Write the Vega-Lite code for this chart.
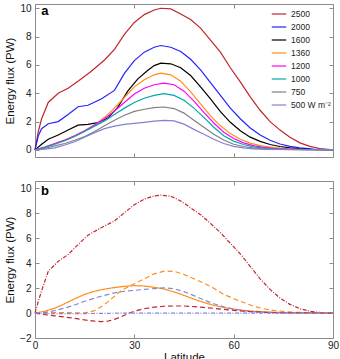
{
  "$schema": "https://vega.github.io/schema/vega-lite/v6.json",
  "padding": {"left": 4, "top": 2, "right": 5, "bottom": 0},
  "spacing": 22,
  "resolve": {"scale": {"color": "independent", "strokeDash": "independent"}},
  "config": {
    "font": "Liberation Sans",
    "view": {"stroke": "#8c8c8c", "strokeWidth": 1},
    "axis": {
      "grid": false, "domain": false, "tickColor": "#8c8c8c", "tickSize": -4,
      "labelPadding": 8, "labelFontSize": 10, "labelColor": "#222", "labelFlush": false,
      "titleFontSize": 11.5, "titleFontWeight": "normal", "titleColor": "#111", "titlePadding": 4
    }
  },
  "datasets": {
    "a": [
      {"s":"2500","lat":0,"v":0},{"s":"2500","lat":1,"v":1.3},{"s":"2500","lat":2,"v":2.2},{"s":"2500","lat":4,"v":3.35},{"s":"2500","lat":7,"v":4.0},{"s":"2500","lat":10,"v":4.35},{"s":"2500","lat":13,"v":4.85},{"s":"2500","lat":17,"v":5.55},{"s":"2500","lat":21,"v":6.35},{"s":"2500","lat":24,"v":7.1},{"s":"2500","lat":27,"v":8.15},{"s":"2500","lat":30,"v":9.0},{"s":"2500","lat":33,"v":9.55},{"s":"2500","lat":36,"v":9.88},{"s":"2500","lat":38,"v":10.0},{"s":"2500","lat":41,"v":9.95},{"s":"2500","lat":44,"v":9.6},{"s":"2500","lat":47,"v":9.2},{"s":"2500","lat":50,"v":8.6},{"s":"2500","lat":53,"v":7.75},{"s":"2500","lat":56,"v":6.9},{"s":"2500","lat":59,"v":5.8},{"s":"2500","lat":62,"v":4.8},{"s":"2500","lat":65,"v":3.75},{"s":"2500","lat":68,"v":2.8},{"s":"2500","lat":71,"v":2.0},{"s":"2500","lat":74,"v":1.4},{"s":"2500","lat":77,"v":0.9},{"s":"2500","lat":80,"v":0.5},{"s":"2500","lat":83,"v":0.25},{"s":"2500","lat":86,"v":0.1},{"s":"2500","lat":90,"v":0},
      {"s":"2000","lat":0,"v":0},{"s":"2000","lat":1,"v":1.0},{"s":"2000","lat":2,"v":1.5},{"s":"2000","lat":4,"v":1.85},{"s":"2000","lat":7,"v":2.0},{"s":"2000","lat":10,"v":2.5},{"s":"2000","lat":13,"v":3.05},{"s":"2000","lat":16,"v":3.15},{"s":"2000","lat":20,"v":3.6},{"s":"2000","lat":24,"v":4.2},{"s":"2000","lat":27,"v":5.4},{"s":"2000","lat":30,"v":6.3},{"s":"2000","lat":33,"v":6.9},{"s":"2000","lat":36,"v":7.25},{"s":"2000","lat":38,"v":7.37},{"s":"2000","lat":41,"v":7.25},{"s":"2000","lat":44,"v":6.95},{"s":"2000","lat":47,"v":6.4},{"s":"2000","lat":50,"v":5.65},{"s":"2000","lat":53,"v":4.75},{"s":"2000","lat":56,"v":3.85},{"s":"2000","lat":59,"v":2.95},{"s":"2000","lat":62,"v":2.2},{"s":"2000","lat":65,"v":1.55},{"s":"2000","lat":68,"v":1.05},{"s":"2000","lat":71,"v":0.68},{"s":"2000","lat":74,"v":0.42},{"s":"2000","lat":77,"v":0.25},{"s":"2000","lat":80,"v":0.14},{"s":"2000","lat":84,"v":0.06},{"s":"2000","lat":90,"v":0},
      {"s":"1600","lat":0,"v":0},{"s":"1600","lat":2,"v":0.4},{"s":"1600","lat":4,"v":0.75},{"s":"1600","lat":7,"v":1.05},{"s":"1600","lat":10,"v":1.4},{"s":"1600","lat":13,"v":1.75},{"s":"1600","lat":16,"v":1.8},{"s":"1600","lat":19,"v":1.93},{"s":"1600","lat":22,"v":2.25},{"s":"1600","lat":25,"v":3.0},{"s":"1600","lat":28,"v":4.15},{"s":"1600","lat":31,"v":5.0},{"s":"1600","lat":34,"v":5.6},{"s":"1600","lat":36,"v":5.95},{"s":"1600","lat":38,"v":6.13},{"s":"1600","lat":41,"v":6.08},{"s":"1600","lat":44,"v":5.8},{"s":"1600","lat":47,"v":5.25},{"s":"1600","lat":50,"v":4.45},{"s":"1600","lat":53,"v":3.6},{"s":"1600","lat":56,"v":2.7},{"s":"1600","lat":59,"v":1.95},{"s":"1600","lat":62,"v":1.35},{"s":"1600","lat":65,"v":0.9},{"s":"1600","lat":68,"v":0.6},{"s":"1600","lat":71,"v":0.38},{"s":"1600","lat":74,"v":0.24},{"s":"1600","lat":77,"v":0.14},{"s":"1600","lat":80,"v":0.08},{"s":"1600","lat":84,"v":0.03},{"s":"1600","lat":90,"v":0},
      {"s":"1360","lat":0,"v":0},{"s":"1360","lat":3,"v":0.2},{"s":"1360","lat":6,"v":0.45},{"s":"1360","lat":9,"v":0.7},{"s":"1360","lat":12,"v":1.0},{"s":"1360","lat":15,"v":1.35},{"s":"1360","lat":18,"v":1.75},{"s":"1360","lat":21,"v":2.3},{"s":"1360","lat":24,"v":2.95},{"s":"1360","lat":27,"v":3.7},{"s":"1360","lat":30,"v":4.45},{"s":"1360","lat":33,"v":4.95},{"s":"1360","lat":36,"v":5.3},{"s":"1360","lat":38,"v":5.42},{"s":"1360","lat":41,"v":5.3},{"s":"1360","lat":44,"v":4.85},{"s":"1360","lat":47,"v":4.1},{"s":"1360","lat":50,"v":3.25},{"s":"1360","lat":53,"v":2.4},{"s":"1360","lat":56,"v":1.7},{"s":"1360","lat":59,"v":1.15},{"s":"1360","lat":62,"v":0.75},{"s":"1360","lat":65,"v":0.48},{"s":"1360","lat":68,"v":0.3},{"s":"1360","lat":71,"v":0.2},{"s":"1360","lat":74,"v":0.12},{"s":"1360","lat":77,"v":0.07},{"s":"1360","lat":80,"v":0.04},{"s":"1360","lat":90,"v":0},
      {"s":"1200","lat":0,"v":0},{"s":"1200","lat":3,"v":0.2},{"s":"1200","lat":6,"v":0.45},{"s":"1200","lat":9,"v":0.7},{"s":"1200","lat":12,"v":1.0},{"s":"1200","lat":15,"v":1.35},{"s":"1200","lat":18,"v":1.75},{"s":"1200","lat":21,"v":2.2},{"s":"1200","lat":24,"v":2.75},{"s":"1200","lat":27,"v":3.35},{"s":"1200","lat":30,"v":3.95},{"s":"1200","lat":33,"v":4.35},{"s":"1200","lat":36,"v":4.6},{"s":"1200","lat":39,"v":4.72},{"s":"1200","lat":42,"v":4.6},{"s":"1200","lat":45,"v":4.15},{"s":"1200","lat":48,"v":3.45},{"s":"1200","lat":51,"v":2.65},{"s":"1200","lat":54,"v":1.9},{"s":"1200","lat":57,"v":1.25},{"s":"1200","lat":60,"v":0.8},{"s":"1200","lat":63,"v":0.5},{"s":"1200","lat":66,"v":0.3},{"s":"1200","lat":69,"v":0.18},{"s":"1200","lat":72,"v":0.11},{"s":"1200","lat":76,"v":0.06},{"s":"1200","lat":80,"v":0.03},{"s":"1200","lat":90,"v":0},
      {"s":"1000","lat":0,"v":0},{"s":"1000","lat":3,"v":0.18},{"s":"1000","lat":6,"v":0.4},{"s":"1000","lat":9,"v":0.65},{"s":"1000","lat":12,"v":0.95},{"s":"1000","lat":15,"v":1.3},{"s":"1000","lat":18,"v":1.68},{"s":"1000","lat":21,"v":2.05},{"s":"1000","lat":24,"v":2.5},{"s":"1000","lat":27,"v":2.95},{"s":"1000","lat":30,"v":3.35},{"s":"1000","lat":33,"v":3.65},{"s":"1000","lat":36,"v":3.85},{"s":"1000","lat":39,"v":3.97},{"s":"1000","lat":42,"v":3.85},{"s":"1000","lat":45,"v":3.5},{"s":"1000","lat":48,"v":2.95},{"s":"1000","lat":51,"v":2.3},{"s":"1000","lat":54,"v":1.6},{"s":"1000","lat":57,"v":1.0},{"s":"1000","lat":60,"v":0.62},{"s":"1000","lat":63,"v":0.38},{"s":"1000","lat":66,"v":0.22},{"s":"1000","lat":69,"v":0.13},{"s":"1000","lat":72,"v":0.08},{"s":"1000","lat":76,"v":0.04},{"s":"1000","lat":90,"v":0},
      {"s":"750","lat":0,"v":0},{"s":"750","lat":3,"v":0.12},{"s":"750","lat":6,"v":0.28},{"s":"750","lat":9,"v":0.45},{"s":"750","lat":12,"v":0.68},{"s":"750","lat":15,"v":0.95},{"s":"750","lat":18,"v":1.3},{"s":"750","lat":21,"v":1.7},{"s":"750","lat":24,"v":2.1},{"s":"750","lat":27,"v":2.45},{"s":"750","lat":30,"v":2.72},{"s":"750","lat":33,"v":2.87},{"s":"750","lat":36,"v":2.98},{"s":"750","lat":39,"v":3.03},{"s":"750","lat":42,"v":2.92},{"s":"750","lat":45,"v":2.6},{"s":"750","lat":48,"v":2.1},{"s":"750","lat":51,"v":1.6},{"s":"750","lat":54,"v":1.1},{"s":"750","lat":57,"v":0.7},{"s":"750","lat":60,"v":0.4},{"s":"750","lat":63,"v":0.24},{"s":"750","lat":66,"v":0.13},{"s":"750","lat":70,"v":0.07},{"s":"750","lat":75,"v":0.03},{"s":"750","lat":90,"v":0},
      {"s":"500 W m⁻²","lat":0,"v":0},{"s":"500 W m⁻²","lat":3,"v":0.05},{"s":"500 W m⁻²","lat":6,"v":0.15},{"s":"500 W m⁻²","lat":9,"v":0.35},{"s":"500 W m⁻²","lat":12,"v":0.58},{"s":"500 W m⁻²","lat":15,"v":0.9},{"s":"500 W m⁻²","lat":18,"v":1.22},{"s":"500 W m⁻²","lat":21,"v":1.5},{"s":"500 W m⁻²","lat":24,"v":1.68},{"s":"500 W m⁻²","lat":27,"v":1.8},{"s":"500 W m⁻²","lat":30,"v":1.88},{"s":"500 W m⁻²","lat":33,"v":1.95},{"s":"500 W m⁻²","lat":36,"v":2.03},{"s":"500 W m⁻²","lat":39,"v":2.09},{"s":"500 W m⁻²","lat":42,"v":2.05},{"s":"500 W m⁻²","lat":45,"v":1.82},{"s":"500 W m⁻²","lat":48,"v":1.45},{"s":"500 W m⁻²","lat":51,"v":1.1},{"s":"500 W m⁻²","lat":54,"v":0.75},{"s":"500 W m⁻²","lat":57,"v":0.45},{"s":"500 W m⁻²","lat":60,"v":0.25},{"s":"500 W m⁻²","lat":63,"v":0.14},{"s":"500 W m⁻²","lat":66,"v":0.08},{"s":"500 W m⁻²","lat":70,"v":0.04},{"s":"500 W m⁻²","lat":90,"v":0}
    ],
    "b": [
      {"c":"total","lat":0,"v":0},{"c":"total","lat":1,"v":0.95},{"c":"total","lat":2,"v":1.8},{"c":"total","lat":4,"v":3.35},{"c":"total","lat":7,"v":4.15},{"c":"total","lat":10,"v":4.7},{"c":"total","lat":13,"v":5.5},{"c":"total","lat":16,"v":6.25},{"c":"total","lat":20,"v":6.85},{"c":"total","lat":24,"v":7.4},{"c":"total","lat":27,"v":8.05},{"c":"total","lat":30,"v":8.7},{"c":"total","lat":33,"v":9.15},{"c":"total","lat":36,"v":9.4},{"c":"total","lat":38,"v":9.46},{"c":"total","lat":41,"v":9.38},{"c":"total","lat":44,"v":9.0},{"c":"total","lat":47,"v":8.45},{"c":"total","lat":50,"v":7.9},{"c":"total","lat":53,"v":7.2},{"c":"total","lat":56,"v":6.45},{"c":"total","lat":59,"v":5.6},{"c":"total","lat":62,"v":4.75},{"c":"total","lat":65,"v":3.75},{"c":"total","lat":68,"v":2.75},{"c":"total","lat":71,"v":1.9},{"c":"total","lat":74,"v":1.2},{"c":"total","lat":77,"v":0.7},{"c":"total","lat":80,"v":0.35},{"c":"total","lat":83,"v":0.15},{"c":"total","lat":86,"v":0.05},{"c":"total","lat":90,"v":0},
      {"c":"orange solid","lat":0,"v":0},{"c":"orange solid","lat":3,"v":0.15},{"c":"orange solid","lat":6,"v":0.4},{"c":"orange solid","lat":9,"v":0.75},{"c":"orange solid","lat":12,"v":1.15},{"c":"orange solid","lat":15,"v":1.5},{"c":"orange solid","lat":18,"v":1.75},{"c":"orange solid","lat":21,"v":1.92},{"c":"orange solid","lat":24,"v":2.05},{"c":"orange solid","lat":27,"v":2.15},{"c":"orange solid","lat":30,"v":2.2},{"c":"orange solid","lat":33,"v":2.17},{"c":"orange solid","lat":36,"v":2.07},{"c":"orange solid","lat":39,"v":1.93},{"c":"orange solid","lat":42,"v":1.7},{"c":"orange solid","lat":45,"v":1.42},{"c":"orange solid","lat":48,"v":1.12},{"c":"orange solid","lat":51,"v":0.85},{"c":"orange solid","lat":54,"v":0.62},{"c":"orange solid","lat":57,"v":0.45},{"c":"orange solid","lat":60,"v":0.32},{"c":"orange solid","lat":63,"v":0.22},{"c":"orange solid","lat":66,"v":0.15},{"c":"orange solid","lat":70,"v":0.09},{"c":"orange solid","lat":75,"v":0.04},{"c":"orange solid","lat":80,"v":0.02},{"c":"orange solid","lat":90,"v":0},
      {"c":"orange dashed","lat":0,"v":0},{"c":"orange dashed","lat":5,"v":0.03},{"c":"orange dashed","lat":10,"v":0.03},{"c":"orange dashed","lat":14,"v":0.01},{"c":"orange dashed","lat":16,"v":0.05},{"c":"orange dashed","lat":18,"v":0.2},{"c":"orange dashed","lat":20,"v":0.5},{"c":"orange dashed","lat":22,"v":0.9},{"c":"orange dashed","lat":24,"v":1.35},{"c":"orange dashed","lat":26,"v":1.8},{"c":"orange dashed","lat":28,"v":2.1},{"c":"orange dashed","lat":30,"v":2.35},{"c":"orange dashed","lat":33,"v":2.75},{"c":"orange dashed","lat":36,"v":3.15},{"c":"orange dashed","lat":39,"v":3.37},{"c":"orange dashed","lat":42,"v":3.35},{"c":"orange dashed","lat":45,"v":3.1},{"c":"orange dashed","lat":48,"v":2.75},{"c":"orange dashed","lat":51,"v":2.4},{"c":"orange dashed","lat":54,"v":2.0},{"c":"orange dashed","lat":57,"v":1.5},{"c":"orange dashed","lat":60,"v":1.15},{"c":"orange dashed","lat":63,"v":0.85},{"c":"orange dashed","lat":66,"v":0.55},{"c":"orange dashed","lat":69,"v":0.35},{"c":"orange dashed","lat":72,"v":0.22},{"c":"orange dashed","lat":76,"v":0.1},{"c":"orange dashed","lat":80,"v":0.05},{"c":"orange dashed","lat":90,"v":0},
      {"c":"blue dashed","lat":0,"v":0},{"c":"blue dashed","lat":3,"v":0.05},{"c":"blue dashed","lat":6,"v":0.2},{"c":"blue dashed","lat":9,"v":0.4},{"c":"blue dashed","lat":12,"v":0.65},{"c":"blue dashed","lat":15,"v":0.95},{"c":"blue dashed","lat":18,"v":1.2},{"c":"blue dashed","lat":21,"v":1.42},{"c":"blue dashed","lat":24,"v":1.62},{"c":"blue dashed","lat":27,"v":1.75},{"c":"blue dashed","lat":30,"v":1.82},{"c":"blue dashed","lat":33,"v":1.9},{"c":"blue dashed","lat":36,"v":1.97},{"c":"blue dashed","lat":39,"v":2.03},{"c":"blue dashed","lat":42,"v":1.95},{"c":"blue dashed","lat":45,"v":1.72},{"c":"blue dashed","lat":48,"v":1.4},{"c":"blue dashed","lat":51,"v":1.05},{"c":"blue dashed","lat":54,"v":0.75},{"c":"blue dashed","lat":57,"v":0.5},{"c":"blue dashed","lat":60,"v":0.32},{"c":"blue dashed","lat":63,"v":0.2},{"c":"blue dashed","lat":66,"v":0.12},{"c":"blue dashed","lat":70,"v":0.06},{"c":"blue dashed","lat":75,"v":0.03},{"c":"blue dashed","lat":90,"v":0},
      {"c":"red dashed","lat":0,"v":0},{"c":"red dashed","lat":3,"v":-0.12},{"c":"red dashed","lat":6,"v":-0.22},{"c":"red dashed","lat":9,"v":-0.32},{"c":"red dashed","lat":12,"v":-0.42},{"c":"red dashed","lat":15,"v":-0.55},{"c":"red dashed","lat":18,"v":-0.65},{"c":"red dashed","lat":20,"v":-0.68},{"c":"red dashed","lat":22,"v":-0.65},{"c":"red dashed","lat":24,"v":-0.5},{"c":"red dashed","lat":26,"v":-0.3},{"c":"red dashed","lat":28,"v":-0.05},{"c":"red dashed","lat":30,"v":0.15},{"c":"red dashed","lat":33,"v":0.35},{"c":"red dashed","lat":36,"v":0.48},{"c":"red dashed","lat":39,"v":0.55},{"c":"red dashed","lat":42,"v":0.57},{"c":"red dashed","lat":45,"v":0.57},{"c":"red dashed","lat":48,"v":0.52},{"c":"red dashed","lat":51,"v":0.45},{"c":"red dashed","lat":54,"v":0.38},{"c":"red dashed","lat":57,"v":0.3},{"c":"red dashed","lat":60,"v":0.22},{"c":"red dashed","lat":63,"v":0.15},{"c":"red dashed","lat":66,"v":0.1},{"c":"red dashed","lat":70,"v":0.05},{"c":"red dashed","lat":75,"v":0.02},{"c":"red dashed","lat":90,"v":0},
      {"c":"blue dashdot","lat":0,"v":0},{"c":"blue dashdot","lat":5,"v":-0.05},{"c":"blue dashdot","lat":10,"v":-0.05},{"c":"blue dashdot","lat":15,"v":-0.04},{"c":"blue dashdot","lat":20,"v":-0.02},{"c":"blue dashdot","lat":30,"v":0},{"c":"blue dashdot","lat":60,"v":0},{"c":"blue dashdot","lat":90,"v":0}
    ]
  },
  "vconcat": [
    {
      "width": 298, "height": 153,
      "layer": [
        {
          "data": {"name": "a"},
          "mark": {"type": "line", "strokeWidth": 1.2},
          "encoding": {
            "x": {"field": "lat", "type": "quantitative", "scale": {"domain": [0, 90], "nice": false}, "axis": {"values": [0, 30, 60, 90], "labels": false, "title": null}},
            "y": {"field": "v", "type": "quantitative", "scale": {"domain": [-0.5, 10.3], "nice": false}, "axis": {"values": [0, 2, 4, 6, 8, 10], "title": "Energy flux (PW)"}},
            "color": {
              "field": "s", "type": "nominal",
              "scale": {"domain": ["2500", "2000", "1600", "1360", "1200", "1000", "750", "500 W m⁻²"], "range": ["#c0262d", "#2323ff", "#000000", "#ff8c1a", "#ff00ff", "#00a9a9", "#808080", "#8080d6"]},
              "legend": {"orient": "top-right", "offset": 2, "title": null, "symbolType": "stroke", "symbolSize": 210, "symbolStrokeWidth": 1.2, "labelFontSize": 8.5, "labelOffset": 4, "rowPadding": 0, "padding": 0, "labelColor": "#222"}
            }
          }
        },
        {
          "data": {"values": [{"t": "a"}]},
          "mark": {"type": "text", "fontWeight": "bold", "fontSize": 13, "align": "center", "baseline": "alphabetic", "color": "#000"},
          "encoding": {
            "x": {"datum": 3, "type": "quantitative", "scale": {"domain": [0, 90], "nice": false}, "axis": {"orient": "top", "values": [0, 30, 60, 90], "labels": false, "title": null}},
            "y": {"datum": 9.55, "type": "quantitative", "scale": {"domain": [-0.5, 10.3], "nice": false}, "axis": {"orient": "right", "values": [0, 2, 4, 6, 8, 10], "labels": false, "title": null}},
            "text": {"field": "t"}
          }
        }
      ],
      "resolve": {"axis": {"x": "independent", "y": "independent"}}
    },
    {
      "width": 298, "height": 157,
      "layer": [
        {
          "data": {"name": "b"},
          "mark": {"type": "line", "strokeWidth": 1.2},
          "encoding": {
            "x": {"field": "lat", "type": "quantitative", "scale": {"domain": [0, 90], "nice": false}, "axis": {"values": [0, 30, 60, 90], "title": "Latitude", "titlePadding": 1, "labelPadding": 6}},
            "y": {"field": "v", "type": "quantitative", "scale": {"domain": [-2, 10.6], "nice": false}, "axis": {"values": [-2, 0, 2, 4, 6, 8, 10], "title": "Energy flux (PW)"}},
            "color": {
              "field": "c", "type": "nominal", "legend": null,
              "scale": {"domain": ["total", "orange solid", "orange dashed", "blue dashed", "red dashed", "blue dashdot"], "range": ["#c0262d", "#ff8c1a", "#ff8c1a", "#8585e0", "#c0262d", "#8585e0"]}
            },
            "strokeDash": {
              "field": "c", "type": "nominal", "legend": null,
              "scale": {"domain": ["total", "orange solid", "orange dashed", "blue dashed", "red dashed", "blue dashdot"], "range": [[4, 1.5, 1, 1.5], [1, 0], [5, 3], [5, 3], [5, 3], [4, 1.5, 1, 1.5]]}
            }
          }
        },
        {
          "data": {"values": [{"t": "b"}]},
          "mark": {"type": "text", "fontWeight": "bold", "fontSize": 13, "align": "center", "baseline": "alphabetic", "color": "#000"},
          "encoding": {
            "x": {"datum": 3, "type": "quantitative", "scale": {"domain": [0, 90], "nice": false}, "axis": {"orient": "top", "values": [0, 30, 60, 90], "labels": false, "title": null}},
            "y": {"datum": 9.45, "type": "quantitative", "scale": {"domain": [-2, 10.6], "nice": false}, "axis": {"orient": "right", "values": [-2, 0, 2, 4, 6, 8, 10], "labels": false, "title": null}},
            "text": {"field": "t"}
          }
        }
      ],
      "resolve": {"axis": {"x": "independent", "y": "independent"}}
    }
  ]
}
